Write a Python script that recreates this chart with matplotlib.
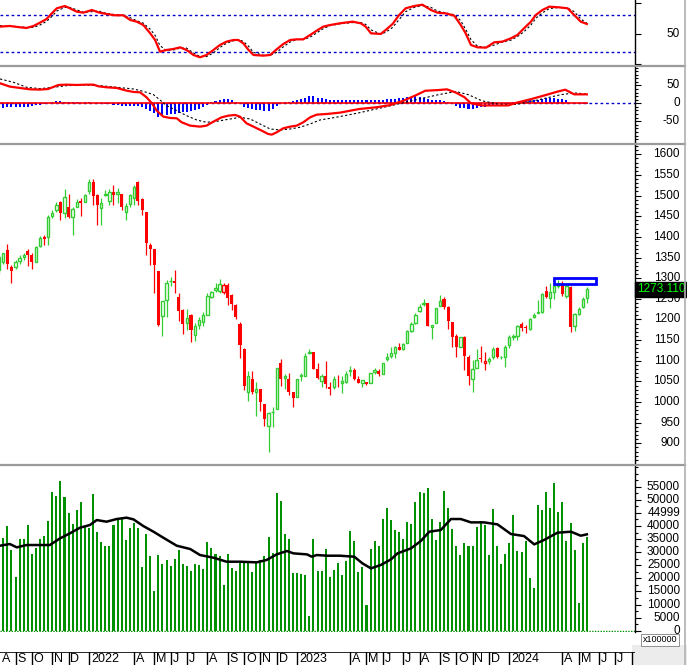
import matplotlib
matplotlib.use("Agg")
import matplotlib.pyplot as plt
from matplotlib.lines import Line2D
from matplotlib.patches import Rectangle
from matplotlib.ticker import MultipleLocator, FixedLocator, NullFormatter
import matplotlib.transforms as mtrans
import numpy as np
import pandas as pd

plt.rcParams['font.family'] = ['Liberation Sans', 'DejaVu Sans']

# weekly candles, Aug 2021 -> mid May 2024
opens = [1320, 1340, 1368, 1326, 1326, 1342, 1351, 1366, 1356, 1340,
         1379, 1399, 1399, 1451, 1464, 1484, 1457, 1472, 1449, 1473,
         1487, 1485, 1510, 1532, 1501, 1469, 1502, 1488, 1508, 1503,
         1504, 1461, 1479, 1493, 1532, 1492, 1460, 1380, 1371, 1317,
         1209, 1247, 1292, 1293, 1255, 1223, 1192, 1211, 1163, 1187,
         1195, 1211, 1254, 1271, 1270, 1266, 1284, 1259, 1235, 1189,
         1129, 1025, 1057, 1024, 1032, 995, 943, 975, 982, 1094,
         1058, 1057, 1025, 1013, 1062, 1063, 1118, 1122, 1080, 1052,
         1064, 1036, 1036, 1052, 1045, 1049, 1075, 1078, 1056, 1047,
         1049, 1045, 1072, 1074, 1068, 1104, 1112, 1118, 1133, 1128,
         1144, 1173, 1192, 1221, 1237, 1241, 1181, 1192, 1233, 1250,
         1231, 1195, 1161, 1133, 1158, 1110, 1057, 1083, 1107, 1094,
         1099, 1110, 1130, 1108, 1108, 1138, 1158, 1161, 1189, 1181,
         1176, 1205, 1216, 1217, 1269, 1252, 1267, 1282, 1286, 1258,
         1279, 1185, 1213, 1229, 1251]
highs = [1356, 1362, 1383, 1332, 1344, 1356, 1360, 1371, 1360, 1378,
         1403, 1405, 1453, 1465, 1485, 1487, 1516, 1505, 1473, 1491,
         1493, 1505, 1539, 1539, 1505, 1493, 1514, 1516, 1526, 1518,
         1505, 1481, 1505, 1526, 1535, 1493, 1461, 1384, 1371, 1317,
         1245, 1296, 1304, 1320, 1263, 1225, 1225, 1213, 1191, 1207,
         1217, 1263, 1270, 1288, 1297, 1289, 1289, 1262, 1238, 1193,
         1132, 1074, 1074, 1048, 1032, 995, 977, 989, 1082, 1104,
         1067, 1070, 1025, 1056, 1071, 1118, 1128, 1122, 1094, 1068,
         1099, 1049, 1062, 1066, 1062, 1074, 1087, 1082, 1062, 1053,
         1049, 1070, 1082, 1079, 1095, 1118, 1133, 1136, 1144, 1144,
         1174, 1193, 1215, 1237, 1249, 1241, 1187, 1227, 1259, 1254,
         1233, 1195, 1165, 1158, 1160, 1114, 1102, 1128, 1136, 1120,
         1110, 1133, 1133, 1112, 1137, 1162, 1165, 1187, 1193, 1187,
         1203, 1215, 1246, 1263, 1282, 1288, 1296, 1296, 1294, 1286,
         1282, 1215, 1229, 1255, 1279]
lows = [1310, 1335, 1322, 1289, 1322, 1334, 1344, 1330, 1321, 1338,
        1376, 1380, 1380, 1445, 1461, 1441, 1445, 1445, 1405, 1472,
        1451, 1484, 1505, 1476, 1429, 1429, 1499, 1476, 1477, 1483,
        1464, 1441, 1472, 1477, 1476, 1453, 1356, 1332, 1263, 1184,
        1161, 1207, 1280, 1265, 1197, 1165, 1175, 1146, 1149, 1176,
        1183, 1211, 1251, 1267, 1263, 1262, 1234, 1223, 1201, 1106,
        1028, 1003, 1020, 967, 979, 941, 878, 939, 982, 1040,
        1031, 1017, 989, 1013, 1050, 1062, 1116, 1080, 1056, 1037,
        1033, 1017, 1031, 1036, 1021, 1047, 1063, 1053, 1045, 1036,
        1041, 1045, 1068, 1062, 1068, 1100, 1106, 1106, 1125, 1126,
        1142, 1170, 1189, 1219, 1233, 1183, 1153, 1192, 1233, 1225,
        1177, 1133, 1110, 1133, 1078, 1041, 1025, 1082, 1098, 1078,
        1093, 1105, 1107, 1104, 1086, 1132, 1150, 1150, 1173, 1168,
        1174, 1203, 1215, 1215, 1253, 1227, 1249, 1275, 1258, 1251,
        1170, 1173, 1211, 1227, 1239]
closes = [1351, 1360, 1334, 1318, 1338, 1348, 1356, 1355, 1340, 1375,
          1397, 1394, 1447, 1459, 1477, 1457, 1496, 1449, 1467, 1484,
          1481, 1501, 1532, 1500, 1477, 1481, 1505, 1508, 1501, 1508,
          1472, 1474, 1501, 1520, 1488, 1464, 1384, 1371, 1332, 1187,
          1245, 1289, 1293, 1289, 1221, 1189, 1203, 1175, 1183, 1199,
          1211, 1257, 1267, 1275, 1285, 1284, 1253, 1238, 1207, 1137,
          1040, 1064, 1025, 1031, 1001, 959, 973, 977, 1082, 1057,
          1062, 1025, 1011, 1056, 1066, 1112, 1122, 1080, 1059, 1063,
          1044, 1031, 1056, 1050, 1051, 1068, 1078, 1056, 1047, 1053,
          1043, 1070, 1078, 1068, 1094, 1110, 1118, 1133, 1125, 1141,
          1173, 1189, 1211, 1229, 1239, 1183, 1187, 1227, 1245, 1231,
          1197, 1158, 1133, 1157, 1112, 1064, 1080, 1103, 1105, 1100,
          1104, 1128, 1108, 1109, 1133, 1157, 1161, 1184, 1180, 1180,
          1200, 1212, 1217, 1262, 1254, 1266, 1282, 1285, 1261, 1281,
          1181, 1213, 1225, 1250, 1273.11]
volumes = [31400, 35500, 40000, 30800, 20600, 35000, 35000, 40400, 29300, 31700,
           35000, 36200, 41900, 53100, 51600, 57300, 51000, 45100, 40600, 46100,
           49100, 39700, 39100, 52200, 37800, 33700, 32300, 32500, 40400, 42600,
           42900, 34600, 39300, 41200, 39100, 24400, 36900, 28600, 15100, 28900,
           25500, 27000, 24700, 27200, 30800, 25500, 24800, 22800, 25500, 25100,
           23600, 33900, 31600, 29200, 28500, 17400, 29300, 23800, 22800, 26400,
           26400, 26400, 22400, 25700, 27000, 28600, 35900, 29500, 52400, 49500,
           36900, 35000, 22200, 22200, 21600, 21300, 5600, 35000, 22800, 22800,
           31200, 20500, 23200, 26000, 21300, 26600, 38100, 34200, 22500, 24200,
           9800, 31200, 34200, 32300, 42600, 46800, 42300, 38400, 37600, 35000,
           41400, 40700, 49300, 53100, 52600, 54600, 42600, 34600, 41400, 53300,
           46700, 38800, 32300, 28900, 33400, 32300, 32300, 39700, 41900, 40400,
           28900, 46500, 32300, 25500, 29200, 33400, 44200, 30400, 29900, 34400,
           20000, 16200, 48000, 46100, 53100, 47000, 56500, 45200, 49000, 34200,
           41000, 30800, 10400, 33600, 35900]

# volume moving average (black line), read at week positions
vma_week = [0.2, 2.6, 4.3, 6.7, 12.4, 14.9, 17.3, 19.8, 22.2, 23.9, 26.3, 28.8,
            31.2, 32.9, 35.3, 37.8, 40.2, 43.5, 46.8, 49.2, 52.5, 55.7, 59.0,
            63.1, 65.5, 68.0, 70.5, 72.1, 75.4, 76.6, 77.8, 80.3, 83.5, 87.0,
            89.0, 91.1, 93.5, 96.0, 97.6, 100.9, 103.3, 105.4, 108.2, 110.7,
            113.1, 115.6, 118.8, 122.1, 125.4, 128.6, 131.1, 133.5, 136.8,
            140.1, 142.5, 144.0]
vma_val = [32460, 33100, 31830, 32720, 32720, 35260, 37170, 39340, 40350, 42260,
           41630, 42650, 43160, 42520, 39970, 37810, 35520, 32460, 31190, 28900,
           27880, 26350, 26350, 26100, 26990, 29150, 30430, 29530, 29150, 28260,
           28900, 28640, 28640, 28260, 25720, 23810, 25080, 27240, 29530, 31440,
           34240, 37810, 38450, 42650, 42650, 41370, 41370, 40610, 36920, 36150,
           32970, 34630, 37430, 37810, 36280, 36790]

# upper oscillator (red) and its dashed signal
osc_week = [0.2, 2.6, 5.1, 6.7, 8.4, 10.0, 11.6, 12.9, 14.1, 16.1, 17.3, 19.0,
            20.6, 22.7, 24.3, 26.3, 28.4, 30.4, 32.1, 33.7, 35.3, 37.0, 38.2,
            39.4, 41.0, 42.7, 44.3, 45.9, 47.6, 49.2, 50.8, 52.5, 54.1, 55.7,
            57.4, 58.6, 59.8, 61.1, 62.3, 64.7, 66.4, 68.0, 69.6, 71.3, 72.9,
            74.5, 76.2, 77.8, 79.4, 81.1, 83.5, 86.6, 88.6, 89.8, 91.1, 93.5,
            94.7, 96.4, 98.0, 99.6, 101.7, 103.7, 105.8, 107.4, 109.4, 111.5,
            113.1, 114.3, 115.6, 117.2, 119.3, 121.3, 123.3, 125.4, 127.0,
            128.6, 130.3, 131.5, 133.1, 134.8, 137.2, 139.3, 140.9, 142.5, 144.0]
osc_val = [61.3, 62.4, 60.2, 59.1, 62.4, 67.9, 73.9, 83.2, 91.5, 95.3, 91.5, 86.0,
           84.3, 88.7, 84.9, 82.1, 80.0, 80.0, 72.3, 69.5, 64.0, 50.3, 39.3,
           20.1, 22.9, 24.5, 27.2, 22.9, 14.6, 10.8, 14.6, 22.9, 31.1, 36.6,
           39.3, 39.3, 33.8, 22.9, 14.6, 13.5, 14.6, 24.0, 32.7, 39.3, 40.4,
           40.4, 47.6, 54.7, 61.3, 64.0, 66.8, 69.5, 66.8, 61.3, 50.3, 49.2,
           55.8, 65.7, 80.5, 91.5, 95.3, 97.5, 88.7, 84.3, 83.2, 79.4,
           64.0, 50.3, 31.1, 27.2, 26.7, 35.5, 36.6, 42.1, 47.6,
           58.5, 69.5, 80.5, 88.7, 94.2, 93.1, 91.5, 80.5, 69.5, 65.7]
osc_sig = [63, 62, 61, 60, 60, 64, 70, 78, 87, 93, 93, 89,
           85, 86, 87, 83, 81, 80, 76, 71, 67, 57, 47,
           30, 22, 23, 26, 26, 18, 12, 12, 18, 27, 34,
           38, 40, 37, 29, 19, 14, 14, 19, 28, 36, 40,
           40, 44, 51, 58, 63, 66, 68, 68, 65, 56, 49,
           52, 60, 73, 86, 93, 96, 93, 87, 84, 81,
           71, 57, 40, 29, 27, 31, 36, 39, 45,
           53, 64, 75, 84, 91, 93, 92, 86, 74, 67]

# MACD line, signal and histogram
macd_week = [0.2, 2.6, 5.1, 7.5, 10.0, 12.0, 14.5, 16.5, 19.0, 21.4, 23.1, 24.3,
             26.3, 28.8, 31.2, 32.9, 34.5, 36.1, 37.4, 38.6, 40.2, 41.9, 43.5,
             44.7, 46.8, 49.2, 50.8, 52.5, 54.5, 56.2, 57.8, 59.0, 60.6, 62.3,
             64.3, 65.9, 66.8, 68.0, 69.6, 71.3, 72.9, 74.5, 76.2, 77.8, 80.3,
             83.5, 88.2, 92.5, 95.8, 99.0, 102.2, 104.4, 107.6, 109.7, 111.9,
             114.0, 115.6, 118.3, 121.5, 124.7, 126.9, 130.1, 133.3, 136.6,
             138.7, 140.9, 144.0]
macd_val = [55.9, 46.6, 42.8, 39.1, 38.2, 40.0, 51.2, 52.1, 51.2, 52.1, 52.1, 47.5,
            44.7, 42.8, 35.4, 31.7, 30.7, 16.8, 0.0, -20.5, -37.2, -41.0, -41.9,
            -53.1, -62.4, -65.2, -62.4, -51.2, -39.1, -34.4, -32.6, -37.2, -55.9,
            -65.2, -76.3, -85.7, -87.5, -81.0, -69.8, -65.2, -62.4, -53.1, -39.1,
            -31.7, -29.8, -26.1, -16, -11, -5, 7, 23, 35, 37, 39, 30,
            17, 0, -6, -6, -6, 2, 11, 21, 32, 38, 25, 25]
sig_week = [0.2, 3.5, 6.7, 10.0, 13.3, 16.5, 20.6, 24.7, 28.8, 32.9, 35.3, 37.8,
            39.4, 41.0, 43.5, 45.9, 48.4, 50.8, 53.3, 56.6, 59.0, 61.5, 63.9,
            66.4, 68.8, 71.3, 73.7, 76.2, 78.6, 81.1, 83.5, 88.0, 94.7, 102.2,
            107.6, 111.9, 115.0, 118.3, 122.6, 126.9, 132.2, 137.6, 140.9, 144.0]
sig_val = [68.0, 58.7, 44.7, 41.0, 44.7, 49.3, 51.2, 49.3, 44.7, 40.0, 33.5, 24.2,
           9.3, -6.5, -20.5, -34.4, -46.6, -53.1, -50.3, -43.8, -39.1, -43.8, -57.7,
           -71.7, -74.5, -71.7, -67.0, -57.7, -46.6, -41.9, -37, -27, -10, 10,
           24, 33, 24, 7, -3, -3, 10, 24, 29, 26]
macd_hist = [-12, -12, -11, -11, -11, -10, -10, -9, -8, -6,
             -4, -2, 0, 5, 6, 6, 5, 3, 3, 3,
             1, 3, 3, 0, -3, -3, -3, -3, -6, -6,
             -8, -8, -8, -8, -8, -11, -16, -22, -28, -37,
             -35, -33, -30, -30, -27, -25, -24, -22, -19, -17,
             -11, -5, 3, 6, 8, 11, 11, 8, 5, 0,
             -11, -14, -16, -19, -19, -22, -22, -16, -8, 0,
             3, 5, 6, 8, 11, 14, 19, 19, 16, 14,
             11, 8, 8, 8, 8, 8, 8, 8, 8, 8,
             8, 8, 8, 8, 10, 11, 12, 13, 15, 16,
             17, 18, 19, 18, 16, 12, 8, 8, 8, 7,
             3, -3, -8, -12, -14, -15, -15, -13, -11, -9,
             -8, -6, -4, -3, -2, -1, 3, 5, 6, 7,
             8, 9, 10, 12, 14, 15, 15, 13, 12, 8,
             0, -2, -3, -3, -2]

# blue resistance box drawn on the price panel
box_weeks = (136, 146.3)
box_prices = (1286, 1300)

price_ticks = list(range(900, 1601, 50))
vol_ticks = [0, 5000, 10000, 15000, 20000, 25000, 30000, 35000, 40000, 45000, 50000, 55000]
vol_labels = ['0', '5000', '10000', '15000', '20000', '25000', '30000', '35000',
              '40000', '44999', '50000', '55000']

# trading weeks (Friday dated, Tet week of Feb 2022 has no bar)
week_end = pd.date_range('2021-08-06', '2024-08-30', freq='W-FRI')
week_end = week_end[week_end != pd.Timestamp('2022-02-04')]
holidays = set(pd.to_datetime(['2021-09-02', '2021-09-03', '2022-09-01',
                               '2022-09-02', '2023-09-01']))

GREEN = '#33cc33'
RED = '#ff0000'
W, H = 687, 665
XLIM = (0.19, 155.8)

fig = plt.figure(figsize=(W / 100, H / 100), dpi=100)
fig.patch.set_facecolor('white')


def panel(top, bottom, right=635):
    ax = fig.add_axes([0, 1 - bottom / H, right / W, (bottom - top) / H])
    ax.set_xlim(*XLIM)
    for s in ('top', 'left', 'bottom'):
        ax.spines[s].set_visible(False)
    ax.spines['right'].set_color('black')
    ax.spines['right'].set_linewidth(1)
    ax.set_xticks([])
    ax.yaxis.tick_right()
    ax.tick_params(axis='y', which='major', length=4, width=0.8, labelright=False)
    ax.tick_params(axis='y', which='minor', length=2.2, width=0.8)
    return ax


def right_labels(ax, values, labels, size=8.5):
    tr = mtrans.blended_transform_factory(fig.transFigure, ax.transData)
    for v, s in zip(values, labels):
        ax.text(680 / W, v, s, transform=tr, ha='right', va='center',
                fontsize=size, color='black', clip_on=False)


# ---- oscillator panel ----
ax_osc = panel(0, 65)
ax_osc.set_ylim(-1.9, 105.2)
ax_osc.axhline(80, color='#0000cc', lw=1, ls=(0, (2, 2)))
ax_osc.axhline(20, color='#0000cc', lw=1, ls=(0, (2, 2)))
ax_osc.plot(osc_week, osc_sig, color='black', lw=0.8, ls=(0, (2, 2)))
ax_osc.plot(osc_week, osc_val, color=RED, lw=1.6)
ax_osc.yaxis.set_major_locator(FixedLocator([0, 50, 100]))
right_labels(ax_osc, [50], ['50'])

# ---- MACD panel ----
ax_macd = panel(67, 143)
ax_macd.set_ylim(-110.9, 101.4)
weeks = np.arange(len(closes))
hist = np.array(macd_hist)
ax_macd.bar(weeks, hist, width=0.5, color='#0000ff', zorder=2)
ax_macd.axhline(0, color='#0000cc', lw=1, ls=(0, (2, 2)), zorder=1)
ax_macd.plot([weeks[0] - 1, weeks[-1]], [0, 0], color=RED, lw=1.2, zorder=3)
ax_macd.plot(sig_week, sig_val, color='black', lw=0.8, ls=(0, (2, 2)), zorder=4)
ax_macd.plot(macd_week, macd_val, color=RED, lw=1.6, zorder=5)
ax_macd.yaxis.set_major_locator(FixedLocator([-50, 0, 50]))
ax_macd.yaxis.set_minor_locator(MultipleLocator(10))
right_labels(ax_macd, [50, 0, -50], ['50', '0', '-50'])

# ---- price panel ----
ax_px = panel(145, 463)
ax_px.set_ylim(852.4, 1622.5)
o, h, l, c = (np.array(a, dtype=float) for a in (opens, highs, lows, closes))
prev = np.r_[c[0], c[:-1]]
up = c >= o
cols = np.where(up & (c >= prev), GREEN, RED)
ax_px.vlines(weeks, l, h, colors=cols, lw=0.9, zorder=2)
dn = ~up
ax_px.bar(weeks[dn], (o - c)[dn], bottom=c[dn], width=0.75, color=RED, zorder=3)
ax_px.bar(weeks[up], (c - o)[up], bottom=o[up], width=0.58, facecolor='white',
          edgecolor=cols[up], linewidth=1.0, zorder=3)
ax_px.add_patch(Rectangle((box_weeks[0], box_prices[0]), box_weeks[1] - box_weeks[0],
                          box_prices[1] - box_prices[0], fill=False,
                          edgecolor='#0000ff', lw=2, zorder=4))
ax_px.yaxis.set_major_locator(FixedLocator(price_ticks))
ax_px.yaxis.set_minor_locator(MultipleLocator(10))
right_labels(ax_px, price_ticks, [str(p) for p in price_ticks])
tr = mtrans.blended_transform_factory(fig.transFigure, ax_px.transData)
ax_px.text(661 / W, closes[-1], f'{closes[-1]:.3f}', transform=tr, ha='center',
           va='center', fontsize=8.5, color='#00ff00', zorder=10, clip_on=False,
           bbox=dict(boxstyle='square,pad=0.15', facecolor='black', edgecolor='black'))

# ---- volume panel ----
ax_vol = panel(466, 632)
ax_vol.set_ylim(-500, 62900)
ax_vol.bar(weeks, volumes, width=0.5, color='#009000', zorder=2)
ax_vol.axhline(0, color='#009000', lw=1, ls=(0, (1, 1)))
ax_vol.plot(vma_week, vma_val, color='black', lw=1.8, zorder=3)
ax_vol.yaxis.set_major_locator(FixedLocator(vol_ticks))
ax_vol.yaxis.set_minor_locator(MultipleLocator(2500))
right_labels(ax_vol, vol_ticks, vol_labels)
fig.text(660 / W, 1 - 640 / H, 'x100000', ha='center', va='center', fontsize=6.5,
         bbox=dict(boxstyle='square,pad=0.15', facecolor='white', edgecolor='#808080', lw=0.6))

# ---- date strip ----
ax_d = fig.add_axes([0, 0, 635 / W, 13 / H])
ax_d.set_xlim(*XLIM)
ax_d.set_ylim(0, 1)
ax_d.axis('off')
ax_d.axhline(1, color='black', lw=1.2)
letters = 'JFMAMJJASOND'
last_day = []
for d in week_end:
    while d in holidays:
        d -= pd.Timedelta(days=1)
    last_day.append(d)
ax_d.text(XLIM[0] + 0.4, 0.45, letters[last_day[0].month - 1], ha='left', va='center',
          fontsize=9)
for i in range(1, len(last_day)):
    d, p = last_day[i], last_day[i - 1]
    if d.month == p.month or d.month in (2, 3):
        continue
    ax_d.axvline(i, color='black', lw=1)
    label = str(d.year) if d.month == 1 else letters[d.month - 1]
    if i < XLIM[1] - 1:
        ax_d.text(i + 0.45, 0.45, label, ha='left', va='center', fontsize=9)

# grey panel separators and the grey corner
for y in (66, 144, 464.5):
    fig.add_artist(Line2D([0, 685 / W], [1 - y / H] * 2, transform=fig.transFigure,
                          color='#9a9a9a', lw=1.6))
fig.add_artist(Rectangle((632 / W, 0), 55 / W, 20 / H, transform=fig.transFigure,
                         facecolor='#ececec', edgecolor='none', zorder=-1))
fig.add_artist(Line2D([685 / W] * 2, [0, 1], transform=fig.transFigure,
                      color='#b0b0b0', lw=1.2))

fig.savefig('out.png', dpi=100)
